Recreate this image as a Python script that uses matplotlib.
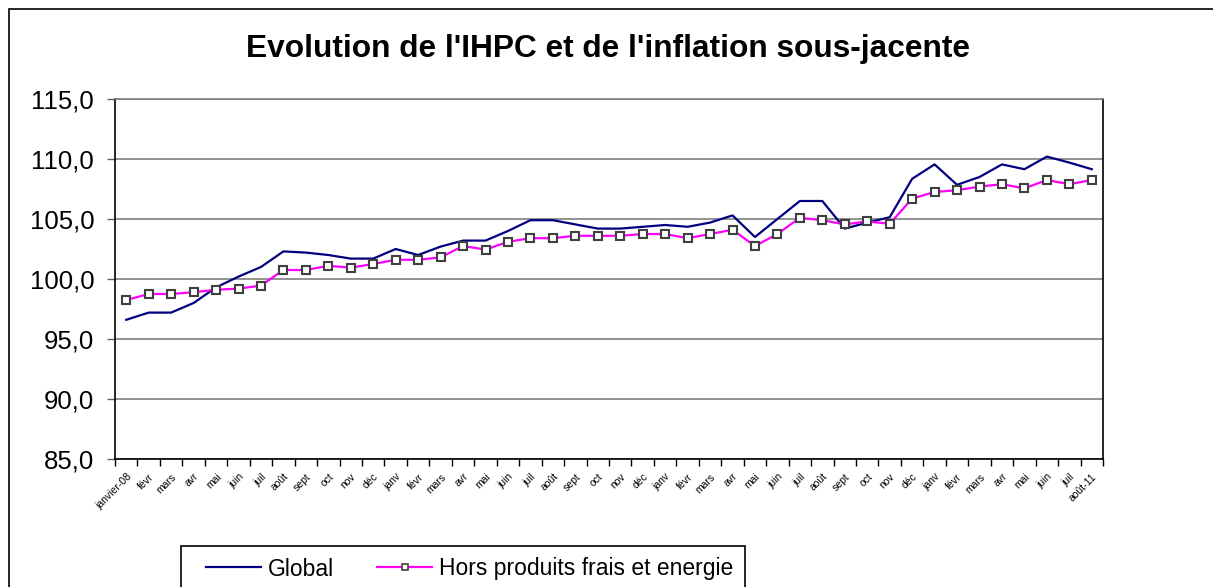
import matplotlib
matplotlib.use("Agg")
import matplotlib.pyplot as plt
from matplotlib.patches import Rectangle
from matplotlib.lines import Line2D

plt.rcParams['font.family'] = ['Liberation Sans', 'DejaVu Sans']

# ---- data ----
months = ['janv', 'févr', 'mars', 'avr', 'mai', 'juin', 'juil', 'août',
          'sept', 'oct', 'nov', 'déc']
labels = []
for yr in ['08', '09', '10', '11']:
    for m in months:
        labels.append(m)
labels = labels[:44]
labels[0] = 'janvier-08'
labels[-1] = 'août-11'

global_vals = [96.6, 97.2, 97.2, 98.0, 99.3, 100.2, 101.0, 102.3, 102.2, 102.0,
               101.7, 101.7, 102.5, 102.0, 102.7, 103.2, 103.2, 104.0, 104.9, 104.9,
               104.55, 104.2, 104.2, 104.35, 104.5, 104.35, 104.7, 105.3, 103.5, 105.0,
               106.5, 106.5, 104.2, 104.7, 105.15, 108.35, 109.55, 107.85, 108.5, 109.55,
               109.15, 110.2, 109.7, 109.15]
core_vals = [98.25, 98.75, 98.75, 98.9, 99.1, 99.2, 99.45, 100.75, 100.75, 101.1,
             100.95, 101.25, 101.6, 101.6, 101.8, 102.75, 102.45, 103.1, 103.4, 103.4,
             103.6, 103.6, 103.6, 103.75, 103.75, 103.4, 103.75, 104.1, 102.75, 103.75,
             105.1, 104.9, 104.55, 104.8, 104.6, 106.7, 107.25, 107.4, 107.7, 107.9,
             107.55, 108.25, 107.9, 108.25]
yticks = [85, 90, 95, 100, 105, 110, 115]
title = "Evolution de l'IHPC et de l'inflation sous-jacente"
series_names = ['Global', 'Hors produits frais et energie']

W, H = 1213, 587
fig = plt.figure(figsize=(W / 100, H / 100), dpi=100)
fig.patch.set_facecolor('white')

# outer frame
fig.add_artist(Rectangle((9 / W, -0.1), 1.2, 1 - 9 / H + 0.1, transform=fig.transFigure,
                         fill=False, edgecolor='black', linewidth=1.2))

ax = fig.add_axes([115 / W, 1 - 459 / H, (1103 - 115) / W, (459 - 99) / H])
x = list(range(len(labels)))
ax.plot(x, global_vals, color='#000080', linewidth=1.6, label=series_names[0], zorder=3)
ax.plot(x, core_vals, color='#FF00FF', linewidth=1.6, marker='s', markersize=5.5,
        markerfacecolor='white', markeredgecolor='#404040', markeredgewidth=1.5,
        label=series_names[1], zorder=4)

ax.set_xlim(-0.5, len(labels) - 0.5)
ax.set_ylim(85, 115)
ax.set_yticks(yticks)
ax.set_yticklabels([f"{v:.1f}".replace('.', ',') for v in yticks], fontsize=18.5)
ax.yaxis.grid(True, color='#808080', linewidth=1.2)
ax.set_axisbelow(True)

ax.set_xticks(x)
ax.set_xticklabels(labels, rotation=45, ha='right', rotation_mode='anchor', fontsize=7.5)
ax.set_xticks([i - 0.5 for i in range(len(labels) + 1)], minor=True)
ax.tick_params(axis='x', which='major', length=0, pad=9)
ax.tick_params(axis='x', which='minor', length=5, width=1, direction='out', color='black')
ax.tick_params(axis='y', length=6, width=1, direction='out', color='#606060', pad=9)

for s in ['left', 'bottom', 'right']:
    ax.spines[s].set_color('black')
    ax.spines[s].set_linewidth(1.2)
ax.spines['top'].set_color('#808080')
ax.spines['top'].set_linewidth(1.2)

fig.text(608 / W, 1 - 57 / H, title, ha='center', va='baseline', fontsize=22.8,
         fontweight='bold')

# legend box drawn separately
fig.add_artist(Rectangle((181 / W, -0.1), (745 - 181) / W, 1 - 546 / H + 0.1,
                         transform=fig.transFigure, fill=False, edgecolor='black',
                         linewidth=1.2))
handles = [Line2D([], [], color='#000080', linewidth=1.6),
           Line2D([], [], color='#FF00FF', linewidth=1.6, marker='s', markersize=4,
                  markerfacecolor='white', markeredgecolor='#404040', markeredgewidth=1.2)]
leg = fig.legend(handles, series_names, loc='center left',
                 bbox_to_anchor=(206 / W, 1 - 569 / H), bbox_transform=fig.transFigure,
                 ncol=2, fontsize=16.5, frameon=False,
                 borderpad=0, handlelength=2.4, handletextpad=0.28, columnspacing=1.9,
                 borderaxespad=0)

fig.savefig('out.png', dpi=100)
